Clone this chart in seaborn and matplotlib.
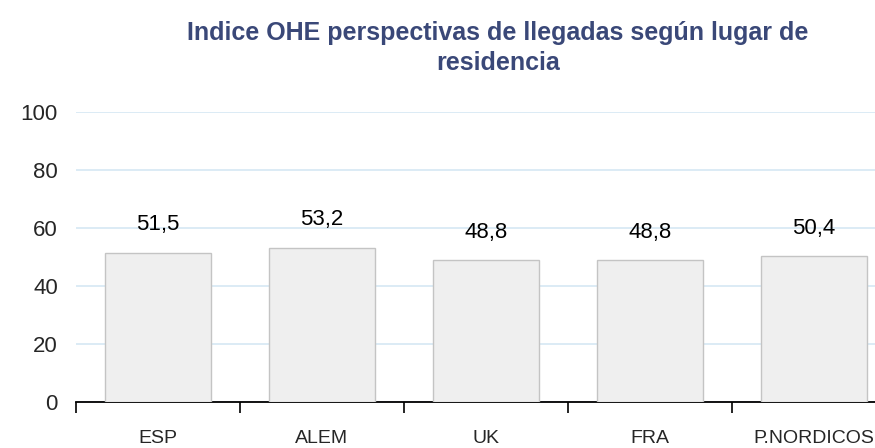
import seaborn as sns
import matplotlib.pyplot as plt

# Data
paises = ["ESP", "ALEM", "UK", "FRA", "P.NORDICOS"]
indice = [51.5, 53.2, 48.8, 48.8, 50.4]
etiquetas = ["51,5", "53,2", "48,8", "48,8", "50,4"]
y_ticks = [0, 20, 40, 60, 80, 100]

sns.set_style("white")
plt.rcParams["font.family"] = ["Liberation Sans", "DejaVu Sans"]

fig = plt.figure(figsize=(8.75, 4.48), dpi=100)
# axis runs past the right edge, as in the reference (cropped)
ax = fig.add_axes([76 / 875, 1 - 402 / 448, 820 / 875, 290 / 448])

sns.barplot(x=paises, y=indice, color="#efefef", edgecolor="#c4c4c4",
            linewidth=1, width=0.65, saturation=1, ax=ax, zorder=3)

ax.set_ylim(0, 100)
ax.set_xlim(-0.5, len(paises) - 0.5)
ax.set_yticks(y_ticks)
ax.yaxis.grid(True, color="#d5e8f3", linewidth=1.2, zorder=0)
ax.set_axisbelow(True)

for s in ["top", "right", "left"]:
    ax.spines[s].set_visible(False)
ax.spines["bottom"].set_color("black")
ax.spines["bottom"].set_linewidth(1.3)

# category boundaries carry the tick marks
ax.set_xticks([i - 0.5 for i in range(len(paises) + 1)], minor=False)
ax.set_xticklabels([])
ax.set_xticks(range(len(paises)), minor=True)
ax.set_xticklabels(paises, minor=True, fontsize=14)
ax.tick_params(axis="x", which="major", bottom=True, direction="out",
               length=8, width=1.2, color="black")
ax.tick_params(axis="x", which="minor", bottom=True, length=0, pad=20)
ax.tick_params(axis="y", length=0, labelsize=16, pad=13)

for i, (v, t) in enumerate(zip(indice, etiquetas)):
    ax.annotate(t, (i, v), xytext=(0, 20), textcoords="offset points",
                ha="center", va="center", fontsize=16, color="black")

ax.set_xlabel("")
ax.set_ylabel("")

fig.text(498 / 875, 1 - 48 / 448, "Indice OHE perspectivas de llegadas según lugar de\nresidencia",
         ha="center", va="center", fontsize=18, fontweight="bold", color="#3a4878",
         linespacing=1.3)

fig.savefig("out.png", dpi=100)
plt.close(fig)
